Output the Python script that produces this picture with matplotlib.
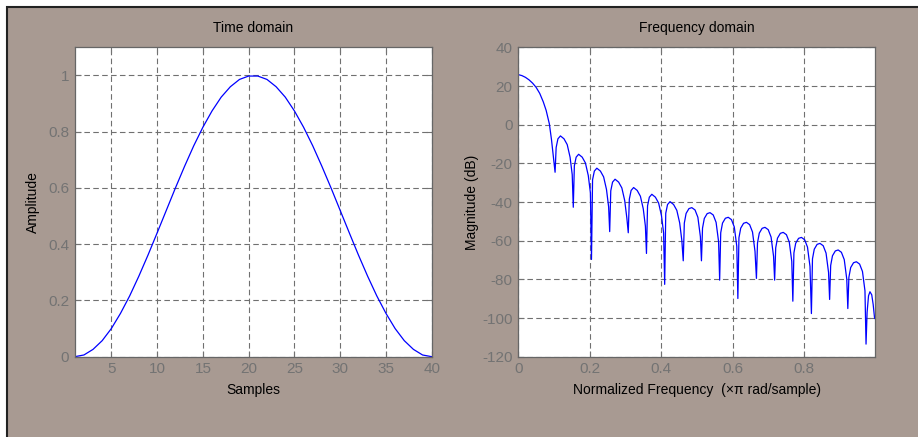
import matplotlib
matplotlib.use('Agg')
import matplotlib.pyplot as plt
from matplotlib.patches import Rectangle

plt.rcParams['font.family'] = ['Liberation Sans', 'DejaVu Sans']
plt.rcParams['axes.unicode_minus'] = False

# time domain: window samples
samples = list(range(1, 41))
amplitude = [0.000, 0.006, 0.026, 0.057, 0.100, 0.154, 0.216, 0.286, 0.361, 0.440,
             0.520, 0.600, 0.677, 0.750, 0.816, 0.874, 0.923, 0.960, 0.986, 0.998,
             0.998, 0.986, 0.960, 0.923, 0.874, 0.816, 0.750, 0.677, 0.600, 0.520,
             0.440, 0.361, 0.286, 0.216, 0.154, 0.100, 0.057, 0.026, 0.006, 0.000]

# frequency domain: normalized frequency (x pi rad/sample) and magnitude (dB)
freq = [0.000, 0.010, 0.020, 0.030, 0.040, 0.050, 0.060, 0.070, 0.078, 0.087, 0.093, 0.098,
        0.103, 0.106, 0.111, 0.118, 0.128, 0.137, 0.145, 0.151,
        0.154, 0.157, 0.162, 0.169, 0.179, 0.188, 0.196, 0.202,
        0.205, 0.208, 0.213, 0.220, 0.230, 0.239, 0.247, 0.253,
        0.256, 0.259, 0.264, 0.271, 0.281, 0.290, 0.298, 0.304,
        0.308, 0.311, 0.316, 0.323, 0.333, 0.342, 0.350, 0.356,
        0.359, 0.362, 0.367, 0.374, 0.384, 0.393, 0.401, 0.407,
        0.410, 0.413, 0.418, 0.425, 0.435, 0.444, 0.452, 0.458,
        0.462, 0.465, 0.470, 0.478, 0.486, 0.495, 0.503, 0.510,
        0.513, 0.516, 0.521, 0.529, 0.537, 0.546, 0.554, 0.561,
        0.564, 0.567, 0.572, 0.580, 0.588, 0.597, 0.605, 0.612,
        0.615, 0.618, 0.623, 0.631, 0.639, 0.648, 0.656, 0.663,
        0.667, 0.670, 0.675, 0.683, 0.691, 0.700, 0.708, 0.715,
        0.718, 0.721, 0.726, 0.734, 0.742, 0.751, 0.759, 0.766,
        0.769, 0.772, 0.777, 0.785, 0.793, 0.802, 0.810, 0.817,
        0.821, 0.824, 0.829, 0.837, 0.845, 0.854, 0.862, 0.869,
        0.872, 0.875, 0.880, 0.888, 0.896, 0.905, 0.913, 0.920,
        0.923, 0.926, 0.931, 0.939, 0.947, 0.956, 0.964, 0.971,
        0.974, 0.977, 0.981, 0.985, 0.990, 0.994, 0.998]
mag_db = [25.9, 25.4, 24.5, 23.2, 21.5, 19.3, 16.2, 11.8, 7.4, 0.4, -7.8, -16.4,
          -24.6, -11.8, -7.3, -5.8, -7.3, -10.3, -16.8, -25.8,
          -42.7, -21.3, -16.8, -15.3, -16.8, -19.8, -26.3, -35.3,
          -69.7, -28.5, -24.0, -22.5, -24.0, -27.0, -33.5, -42.5,
          -55.3, -34.2, -29.7, -28.2, -29.7, -32.7, -39.2, -48.2,
          -55.9, -38.5, -34.0, -32.5, -34.0, -37.0, -43.5, -52.5,
          -66.6, -42.0, -37.5, -36.0, -37.5, -40.5, -47.0, -56.0,
          -82.6, -45.8, -41.3, -39.8, -41.3, -44.3, -50.8, -59.8,
          -70.4, -50.9, -45.9, -43.4, -42.9, -44.1, -47.9, -57.9,
          -70.4, -53.5, -48.5, -46.0, -45.5, -46.7, -50.5, -60.5,
          -80.4, -55.9, -50.9, -48.4, -47.9, -49.1, -52.9, -62.9,
          -89.9, -58.5, -53.5, -51.0, -50.5, -51.7, -55.5, -65.5,
          -79.5, -61.1, -56.1, -53.6, -53.1, -54.3, -58.1, -68.1,
          -80.4, -63.7, -58.7, -56.2, -55.7, -56.9, -60.7, -70.7,
          -91.3, -66.3, -61.3, -58.8, -58.3, -59.5, -63.3, -73.3,
          -97.7, -69.4, -64.4, -61.9, -61.4, -62.6, -66.4, -76.4,
          -90.4, -72.8, -67.8, -65.3, -64.8, -66.0, -69.8, -79.8,
          -95.1, -78.9, -73.9, -71.4, -70.9, -72.1, -75.9, -85.9,
          -113.5, -97.0, -88.5, -86.4, -88.0, -93.0, -100.2]

x_ticks_time = [5, 10, 15, 20, 25, 30, 35, 40]
y_ticks_time = [0, 0.2, 0.4, 0.6, 0.8, 1]
x_ticks_freq = [0, 0.2, 0.4, 0.6, 0.8]
y_ticks_freq = [-120, -100, -80, -60, -40, -20, 0, 20, 40]

bg = '#a89a92'
tick_col = '#737373'
line_col = '#0000ff'

fig = plt.figure(figsize=(9.18, 4.37), dpi=100, facecolor='white')
fig.patches.append(Rectangle((7 / 918, -0.01), 1.0, 1 - 7 / 437 + 0.01,
                             transform=fig.transFigure, facecolor=bg,
                             edgecolor='#222222', linewidth=1.5, zorder=-10))

ax1 = fig.add_axes([0.0814, 0.1838, 0.3889, 0.7078])
ax2 = fig.add_axes([0.5646, 0.1838, 0.3889, 0.7078])


def style(ax):
    ax.set_facecolor('white')
    for s in ax.spines.values():
        s.set_color('#666666')
        s.set_linewidth(0.9)
    ax.tick_params(direction='in', length=4, colors=tick_col, labelsize=11,
                   top=True, right=True, labelcolor=tick_col, pad=4)
    ax.grid(True, color='#707070', linestyle=(0, (5, 3)), linewidth=0.8)
    ax.set_axisbelow(True)


ax1.plot(samples, amplitude, color=line_col, linewidth=0.9)
ax1.set_xlim(1, 40)
ax1.set_ylim(0, 1.1)
ax1.set_xticks(x_ticks_time)
ax1.set_yticks(y_ticks_time)
ax1.set_yticklabels(['0', '0.2', '0.4', '0.6', '0.8', '1'])
style(ax1)
ax1.set_title('Time domain', fontsize=10, pad=11)
ax1.set_xlabel('Samples', fontsize=10, labelpad=5)
ax1.set_ylabel('Amplitude', fontsize=10, labelpad=6)

ax2.plot(freq, mag_db, color=line_col, linewidth=0.9)
ax2.set_xlim(0, 1.0)
ax2.set_ylim(-120, 40)
ax2.set_xticks(x_ticks_freq)
ax2.set_xticklabels(['0', '0.2', '0.4', '0.6', '0.8'])
ax2.set_yticks(y_ticks_freq)
style(ax2)
ax2.set_title('Frequency domain', fontsize=10, pad=11)
ax2.set_xlabel('Normalized Frequency  (×π rad/sample)', fontsize=10, labelpad=5)
ax2.set_ylabel('Magnitude (dB)', fontsize=10, labelpad=2)

fig.savefig('out.png', dpi=100, facecolor=fig.get_facecolor())
